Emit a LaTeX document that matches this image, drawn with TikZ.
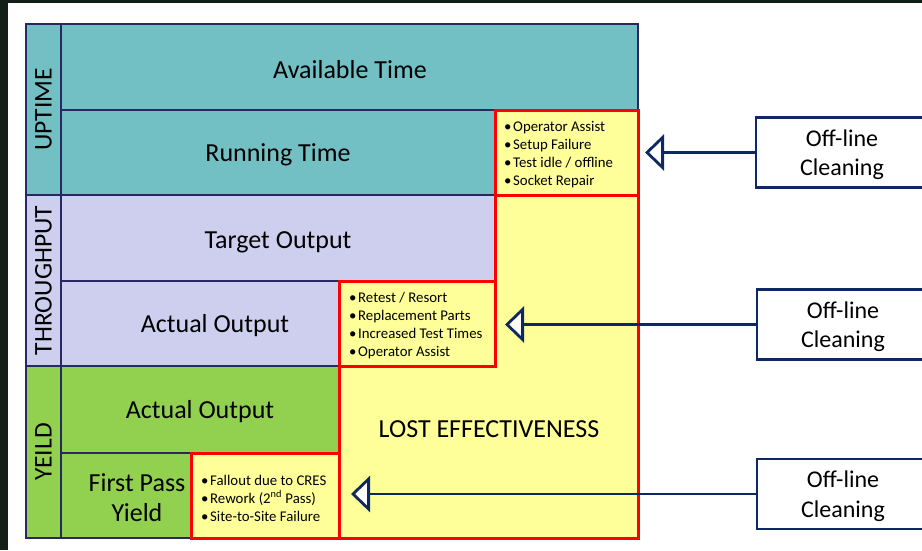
\documentclass[tikz,border=0pt]{standalone}
\usepackage{fontspec}
\setmainfont{Carlito}
\usetikzlibrary{arrows.meta}
\definecolor{tealc}{RGB}{114,191,196}
\definecolor{lavc}{RGB}{206,206,238}
\definecolor{greenc}{RGB}{146,208,80}
\definecolor{yelc}{RGB}{255,255,153}
\definecolor{redc}{RGB}{255,0,0}
\definecolor{gridc}{RGB}{40,40,100}
\definecolor{navyc}{RGB}{14,40,100}
\definecolor{darkbg}{RGB}{18,32,24}
\newcommand{\bul}{\makebox[9pt][l]{\textbullet}}
\newcommand{\offline}{\raisebox{-2.5pt}[\height][\depth]{\begin{tabular}{@{}c@{}}Off-line\\[-0.3pt]Cleaning\end{tabular}}}
\begin{document}
\begin{tikzpicture}[x=1pt,y=-1pt,
  cell/.style={draw=gridc,line width=1.5pt},
  redbox/.style={draw=redc,fill=yelc,line width=3pt},
  bigtxt/.style={font=\fontsize{26}{30}\selectfont,inner sep=0pt},
  sidetxt/.style={font=\fontsize{25.5}{30}\selectfont,inner sep=0pt,rotate=90},
  bullets/.style={font=\fontsize{14.8}{18}\selectfont,align=left,anchor=west,inner sep=0pt},
  cleanbox/.style={draw=navyc,line width=2.2pt,fill=white,minimum width=172pt,minimum height=70pt,inner sep=0pt,align=center,font=\fontsize{24}{29.5}\selectfont},
  conn/.style={draw=navyc,line width=2.8pt,-{Triangle[length=19pt,width=36pt,fill=white]}}]
\clip (0,0) rectangle (922,550);
\fill[white] (0,0) rectangle (922,550);
\fill[darkbg] (0,0) rectangle (8,550);
\fill[darkbg] (0,0) rectangle (922,3);
% side labels
\path[cell,fill=tealc] (26,24) rectangle (61,195);
\path[cell,fill=lavc] (26,195) rectangle (61,366);
\path[cell,fill=greenc] (26,366) rectangle (61,538);
% cells
\path[cell,fill=tealc] (61,24) rectangle (638,110);
\path[cell,fill=tealc] (61,110) rectangle (495,195);
\path[cell,fill=lavc] (61,195) rectangle (495,281);
\path[cell,fill=lavc] (61,281) rectangle (339,366);
\path[cell,fill=greenc] (61,366) rectangle (339,453);
\path[cell,fill=greenc] (61,453) rectangle (191,538);
\draw[gridc,line width=2pt] (26,538) -- (26,24) -- (495,24);
% red boxes
\path[redbox] (495,195) -- (638,195) -- (638,538) -- (339,538) -- (339,366) -- (495,366) -- cycle;
\path[redbox] (495,110) rectangle (638,195);
\path[redbox] (339,281) rectangle (495,366);
\path[redbox] (191,453) rectangle (339,538);
% texts
\node[sidetxt] (up) at (43.5,109.5) {UPTIME};
\node[sidetxt] (tp) at (43.5,280.5) {THROUGHPUT};
\node[sidetxt] (yd) at (43.5,452) {YEILD};
\node[bigtxt] (avail) at (350,69.5) {Available Time};
\node[bigtxt] (run) at (278,155) {Running Time};
\node[bigtxt] (target) at (278,242) {Target Output};
\node[bigtxt] (actual) at (215,326) {Actual Output};
\node[bigtxt] (actualy) at (200,412) {Actual Output};
\node[bigtxt,align=center] (fpy) at (137,498) {First Pass\\Yield};
\node[bigtxt] (lost) at (489,429) {LOST EFFECTIVENESS};
\node[bullets] (b1) at (504,155) {\bul Operator Assist\\\bul Setup Failure\\\bul Test idle / offline\\\bul Socket Repair};
\node[bullets] (b2) at (349,326) {\bul Retest / Resort\\\bul Replacement Parts\\\bul Increased Test Times\\\bul Operator Assist};
\node[bullets] (b3) at (201,498) {\bul Fallout due to CRES\\\bul Rework (2\textsuperscript{nd} Pass)\\\bul Site-to-Site Failure};
% off-line boxes
\node[cleanbox] (c1) at (842,152.5) {\offline};
\node[cleanbox] (c2) at (843,324.5) {\offline};
\node[cleanbox] (c3) at (843,494) {\offline};
\coordinate (t1) at (645,152.5);
\coordinate (t2) at (505,324.5);
\coordinate (t3) at (351,494);
\draw[conn] (c1.west) -- (t1);
\draw[conn] (c2.west) -- (t2);
\draw[conn] (c3.west) -- (t3);
\end{tikzpicture}
\end{document}
